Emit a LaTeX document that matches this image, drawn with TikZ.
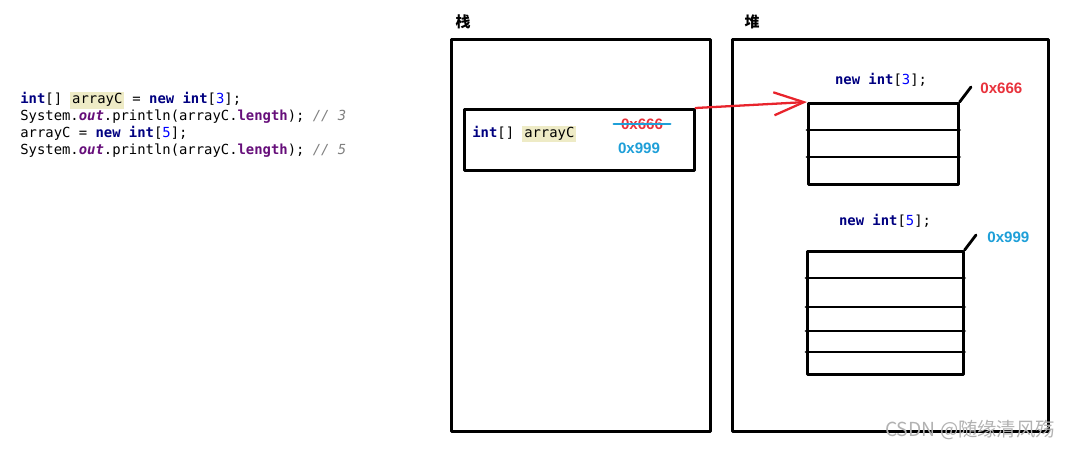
\documentclass[tikz,border=0pt]{standalone}
\usepackage{fontspec}
\setmainfont{Liberation Sans}
\setmonofont{DejaVu Sans Mono}
\newfontfamily\cjk{Noto Sans CJK SC}
\usetikzlibrary{arrows.meta,positioning}

% --- Colours ---
\definecolor{kwnavy}{HTML}{000080}
\definecolor{fieldpurple}{HTML}{660E7A}
\definecolor{numblue}{HTML}{0000FF}
\definecolor{cmtgrey}{HTML}{808080}
\definecolor{hlyellow}{HTML}{EEEBC6}
\definecolor{addrred}{HTML}{E8323C}
\definecolor{addrblue}{HTML}{1E9FD8}
\definecolor{arrowred}{HTML}{E8242C}

% --- Code highlighting ---
\newcommand{\kw}[1]{\textcolor{kwnavy}{\textbf{#1}}}
\newcommand{\fld}[1]{\textcolor{fieldpurple}{\textbf{#1}}}
\newcommand{\sfld}[1]{\textcolor{fieldpurple}{\textbf{\textit{#1}}}}
\newcommand{\nm}[1]{\textcolor{numblue}{#1}}
\newcommand{\cmt}[1]{\textcolor{cmtgrey}{\textit{#1}}}
\newcommand{\hlvar}[1]{{\setlength{\fboxsep}{1pt}\colorbox{hlyellow}{#1}}}

\tikzset{
  box/.style={draw, line width=1.5pt, anchor=north west, inner sep=0pt},
  boxline/.style={line width=1.6pt},
  codeline/.style={anchor=base west, inner sep=0pt},
  title/.style={font=\cjk\bfseries\fontsize{8.5}{9}\selectfont, inner sep=0pt},
  addr/.style={font=\rmfamily\bfseries\fontsize{8.6}{10}\selectfont, inner sep=0pt},
  ref/.style={arrowred, line width=1.3pt, -{Straight Barb[length=6mm,width=4.6mm,line width=1.3pt]}}
}

\begin{document}
\begin{tikzpicture}[x=0.02cm, y=-0.02cm, font=\ttfamily\fontsize{7.9}{9.7}\selectfont, line join=round, line cap=round]
  \useasboundingbox (0,0) rectangle (1071,449);

  % --- Source code ---
  \node[codeline] (code1) at (20,104) {\kw{int}[] \hlvar{arrayC} = \kw{new} \kw{int}[\nm{3}];};
  \node[codeline] (code2) at (20,121) {System.\sfld{out}.println(arrayC.\fld{length}); \cmt{// 3}};
  \node[codeline] (code3) at (20,138) {arrayC = \kw{new} \kw{int}[\nm{5}];};
  \node[codeline] (code4) at (20,155) {System.\sfld{out}.println(arrayC.\fld{length}); \cmt{// 5}};

  % --- Stack and heap ---
  \node[box, minimum width=5.18cm, minimum height=7.84cm] (stack) at (450,38) {};
  \node[title] (stacklbl) at (463,22) {栈};
  \node[box, minimum width=6.32cm, minimum height=7.84cm] (heap) at (731,38) {};
  \node[title] (heaplbl) at (752,22) {堆};

  % --- Variable on the stack ---
  \node[box, minimum width=4.6cm, minimum height=1.22cm] (var) at (463,108) {};
  \node[anchor=west, inner sep=0pt] (varname) at (472,134) {\kw{int}[] \hlvar{arrayC}};
  \node[addr, text=addrred] (oldaddr) at (642,124) {0x666};
  \draw[addrblue, line width=1.3pt, shorten <=-4pt, shorten >=-4pt] (oldaddr.west) -- (oldaddr.east);
  \node[addr, text=addrblue] (newaddr) at (639,148) {0x999};

  % --- Array new int[3] ---
  \node[box, minimum width=3cm, minimum height=1.62cm] (arrA) at (807,102) {};
  \foreach \y in {130,157}
    \draw[boxline] (arrA.west |- 0,\y) -- (arrA.east |- 0,\y);
  \node (newA) at (881,80) {\kw{new} \kw{int}[\nm{3}];};
  \coordinate (tickA) at (971,87);
  \draw[boxline] (arrA.north east) -- (tickA);
  \node[addr, text=addrred, anchor=west] (addrA) at (980,88) {0x666};

  % --- Array new int[5] ---
  \node[box, minimum width=3.12cm, minimum height=2.46cm] (arrB) at (806,250) {};
  \foreach \y in {278,307,331,352}
    \draw[boxline] (arrB.west |- 0,\y) -- (arrB.east |- 0,\y);
  \node (newB) at (885,221) {\kw{new} \kw{int}[\nm{5}];};
  \coordinate (tickB) at (976,235);
  \draw[boxline] (arrB.north east) -- (tickB);
  \node[addr, text=addrblue, anchor=west] (addrB) at (987,237) {0x999};

  % --- Reference ---
  \draw[ref] (var.north east) -- (arrA.north west);

  % --- Watermark ---
  \node[font=\cjk\fontsize{11}{12}\selectfont, text=black!30, inner sep=0pt] (mark) at (970,430) {CSDN @随缘清风殇};
\end{tikzpicture}
\end{document}
